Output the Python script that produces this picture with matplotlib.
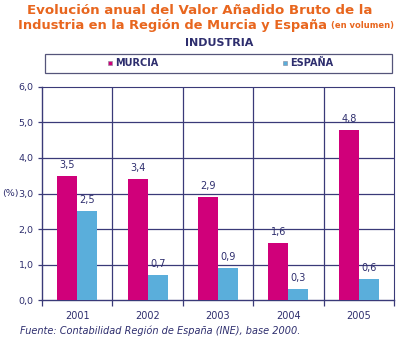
import matplotlib.pyplot as plt
import numpy as np
from matplotlib.patches import Rectangle

years = ["2001", "2002", "2003", "2004", "2005"]
murcia = [3.5, 3.4, 2.9, 1.6, 4.8]
espana = [2.5, 0.7, 0.9, 0.3, 0.6]
series_names = ["MURCIA", "ESPAÑA"]

navy = "#2e2e6e"
grid_c = "#3a3a78"
c_murcia = "#d0007a"
c_espana = "#5aaedb"
orange = "#e8661e"

fig = plt.figure(figsize=(4, 3.41), dpi=100)
ax = fig.add_axes([0.105, 0.12, 0.88, 0.625])

x = np.arange(len(years))
w = 0.285
ax.bar(x - w / 2, murcia, w, color=c_murcia, zorder=3)
ax.bar(x + w / 2, espana, w, color=c_espana, zorder=3)

# value labels
for xi, v in zip(x, murcia):
    ax.text(xi - w / 2, v + 0.17, f"{v:.1f}".replace(".", ","), ha="center", va="bottom",
            fontsize=7, color=navy)
for xi, v in zip(x, espana):
    ax.text(xi + w / 2, v + 0.17, f"{v:.1f}".replace(".", ","), ha="center", va="bottom",
            fontsize=7, color=navy)

ax.set_xlim(-0.5, len(years) - 0.5)
ax.set_ylim(0, 6)

# grid
for y in range(1, 6):
    ax.axhline(y, color=grid_c, lw=0.9, zorder=1)
for b in np.arange(0.5, len(years) - 0.5, 1):
    ax.axvline(b, color=grid_c, lw=0.9, zorder=1)

ax.set_yticks(np.arange(0, 7, 1))
ax.set_yticklabels([f"{v:.1f}".replace(".", ",") for v in np.arange(0, 7, 1)],
                   fontsize=6.8, color=navy)
ax.set_xticks(x)
ax.set_xticklabels(years, fontsize=7, color=navy)
ax.tick_params(axis="x", length=0, pad=8)
ax.set_xticks(np.arange(-0.5, len(years), 1), minor=True)
ax.tick_params(axis="x", which="minor", length=4, color=grid_c, width=0.9)
ax.tick_params(axis="y", length=3, color=grid_c, width=0.9, pad=3)

for s in ["left", "bottom"]:
    ax.spines[s].set_color(grid_c)
    ax.spines[s].set_linewidth(1.0)
for s in ["top", "right"]:
    ax.spines[s].set_color(grid_c)
    ax.spines[s].set_linewidth(0.8)
    ax.spines[s].set_linestyle((0, (1, 1)))

fig.text(0.006, 1 - 193 / 341, "(%)", fontsize=6.8, color=navy, va="center")

# titles
fig.text(0.5, 1 - 11 / 341, "Evolución anual del Valor Añadido Bruto de la",
         ha="center", va="center", fontsize=9.6, fontweight="bold", color=orange)
t2 = fig.text(0.045, 1 - 25 / 341, "Industria en la Región de Murcia y España",
              ha="left", va="center", fontsize=9.4, fontweight="bold", color=orange)
r = fig.canvas.get_renderer()
bb = t2.get_window_extent(r).transformed(fig.transFigure.inverted())
fig.text(bb.x1 + 0.01, 1 - 25.5 / 341, "(en volumen)",
         ha="left", va="center", fontsize=6, fontweight="bold", color=orange)
fig.text(0.548, 1 - 43 / 341, "INDUSTRIA", ha="center", va="center",
         fontsize=8, fontweight="bold", color=navy)

# legend box
fig.patches.append(Rectangle((45 / 400, 1 - 73 / 341), 347 / 400, 19 / 341,
                             transform=fig.transFigure, fill=False,
                             edgecolor="#55557a", lw=0.9))
for name, col, lx in zip(series_names, [c_murcia, c_espana], [108, 283]):
    fig.patches.append(Rectangle((lx / 400, 1 - 65 / 341), 4 / 400, 4 / 341,
                                 transform=fig.transFigure, facecolor=col,
                                 edgecolor="#888899", lw=0.4))
    fig.text((lx + 7) / 400, 1 - 63 / 341, name, va="center", fontsize=7,
             fontweight="bold", color=navy)

fig.text(0.05, 1 - 331 / 341, "Fuente: Contabilidad Región de España (INE), base 2000.",
         fontsize=7, style="italic", color=navy, va="center")

fig.savefig("out.png", dpi=100)
